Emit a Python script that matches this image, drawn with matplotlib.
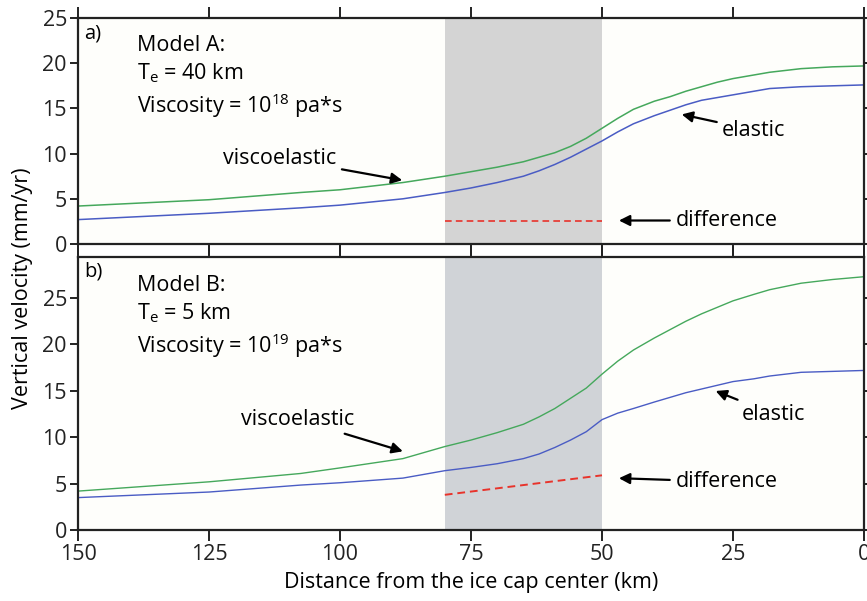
import matplotlib.pyplot as plt
import numpy as np

plt.rcParams['font.family'] = ['Open Sans', 'DejaVu Sans']
plt.rcParams['mathtext.fontset'] = 'custom'
plt.rcParams['mathtext.rm'] = 'Open Sans'

# # # DADOS # # #
dist = [150, 125, 107.5, 100, 88, 80, 75, 70, 65, 62, 59, 56, 53, 50, 47, 44,
        40, 37, 34, 31, 28, 25, 21, 18, 12, 6, 0]

visco_a = [4.2, 4.9, 5.7, 6.0, 6.8, 7.5, 8.0, 8.5, 9.1, 9.6, 10.1, 10.8, 11.7, 12.8,
           13.9, 14.9, 15.8, 16.3, 16.9, 17.4, 17.9, 18.3, 18.7, 19.0, 19.4, 19.6, 19.7]
elast_a = [2.7, 3.4, 4.0, 4.3, 5.0, 5.7, 6.2, 6.8, 7.5, 8.1, 8.8, 9.6, 10.5, 11.4,
           12.4, 13.3, 14.2, 14.8, 15.4, 15.9, 16.2, 16.5, 16.9, 17.2, 17.4, 17.5, 17.6]

visco_b = [4.2, 5.2, 6.1, 6.7, 7.7, 9.0, 9.7, 10.5, 11.4, 12.2, 13.1, 14.2, 15.3, 16.8,
           18.2, 19.4, 20.7, 21.6, 22.5, 23.3, 24.0, 24.7, 25.4, 25.9, 26.6, 27.0, 27.3]
elast_b = [3.5, 4.1, 4.85, 5.1, 5.6, 6.4, 6.75, 7.15, 7.7, 8.2, 8.9, 9.7, 10.6, 11.9,
           12.6, 13.1, 13.8, 14.3, 14.8, 15.2, 15.6, 16.0, 16.3, 16.6, 17.0, 17.1, 17.2]

diff_x = [80, 50]
diff_a = [2.6, 2.6]
diff_b = [3.8, 5.9]

xticks = [150, 125, 100, 75, 50, 25, 0]

verde = '#45a85c'
azul = '#4a5cc4'
verm = '#e8332b'
fundo = '#fefefb'
fs = 15.5

fig = plt.figure(figsize=(8.67, 6.01), dpi=100)
ax1 = fig.add_axes([0.090, 0.594, 0.9065, 0.376])
ax2 = fig.add_axes([0.090, 0.118, 0.9065, 0.454])

for ax in (ax1, ax2):
    ax.set_facecolor(fundo)
    ax.set_xlim(150, 0)
    ax.set_xticks(xticks)
    for s in ax.spines.values():
        s.set_linewidth(1.6)
        s.set_color('#222222')
    ax.tick_params(direction='out', length=6, width=1.4, colors='#222222',
                   labelsize=15.5, top=True, right=True, pad=2)

# # # PAINEL A # # #
ax1.axvspan(80, 50, color='#d4d4d4', lw=0)
ax1.plot(dist, visco_a, color=verde, lw=1.1)
ax1.plot(dist, elast_a, color=azul, lw=1.1)
ax1.plot(diff_x, diff_a, color=verm, lw=1.2, ls=(0, (4, 2.5)))
ax1.set_ylim(0, 25)
ax1.set_yticks([0, 5, 10, 15, 20, 25])
ax1.tick_params(labelbottom=False)
ax1.tick_params(axis='x', length=8)

ax1.text(0.008, 0.975, 'a)', transform=ax1.transAxes, fontsize=fs - 1, va='top')
txt_a = ('Model A:\nT$_\\mathregular{e}$ = 40 km\n'
         'Viscosity = 10$^{\\mathregular{18}}$ pa*s')
ax1.text(0.075, 0.925, txt_a, transform=ax1.transAxes, fontsize=fs,
         va='top', linespacing=1.3)

seta = dict(arrowstyle='-|>', color='black', lw=1.6, mutation_scale=16)
ax1.annotate('viscoelastic', xy=(87.6, 7.0), xytext=(111.5, 9.5),
             fontsize=fs, ha='center', va='center', arrowprops=seta)
ax1.annotate('elastic', xy=(35.3, 14.4), xytext=(21, 12.6),
             fontsize=fs, ha='center', va='center', arrowprops=seta)
ax1.annotate('difference', xy=(47.3, 2.6), xytext=(36, 2.6),
             fontsize=fs, ha='left', va='center', arrowprops=seta)

# # # PAINEL B # # #
ax2.axvspan(80, 50, color='#d0d3d7', lw=0)
ax2.plot(dist, visco_b, color=verde, lw=1.0)
ax2.plot(dist, elast_b, color=azul, lw=1.0)
ax2.plot(diff_x, diff_b, color=verm, lw=1.4, ls=(0, (4, 2.5)))
ax2.set_ylim(0, 29.4)
ax2.set_yticks([0, 5, 10, 15, 20, 25])
ax2.tick_params(axis='x', length=8)

ax2.text(0.008, 0.985, 'b)', transform=ax2.transAxes, fontsize=fs - 1, va='top')
txt_b = ('Model B:\nT$_\\mathregular{e}$ = 5 km\n'
         'Viscosity = 10$^{\\mathregular{19}}$ pa*s')
ax2.text(0.075, 0.935, txt_b, transform=ax2.transAxes, fontsize=fs,
         va='top', linespacing=1.3)

ax2.annotate('viscoelastic', xy=(87.5, 8.4), xytext=(108, 11.9),
             fontsize=fs, ha='center', va='center', arrowprops=seta)
ax2.annotate('elastic', xy=(28.8, 15.1), xytext=(17.3, 12.5),
             fontsize=fs, ha='center', va='center', arrowprops=seta)
ax2.annotate('difference', xy=(47.3, 5.6), xytext=(36, 5.2),
             fontsize=fs, ha='left', va='center', arrowprops=seta)

ax2.set_xlabel('Distance from the ice cap center (km)', fontsize=fs, labelpad=5)
fig.text(0.026, 0.52, 'Vertical velocity (mm/yr)', rotation=90, fontsize=fs,
         ha='center', va='center')

plt.savefig('out.png', dpi=100, facecolor='white')
